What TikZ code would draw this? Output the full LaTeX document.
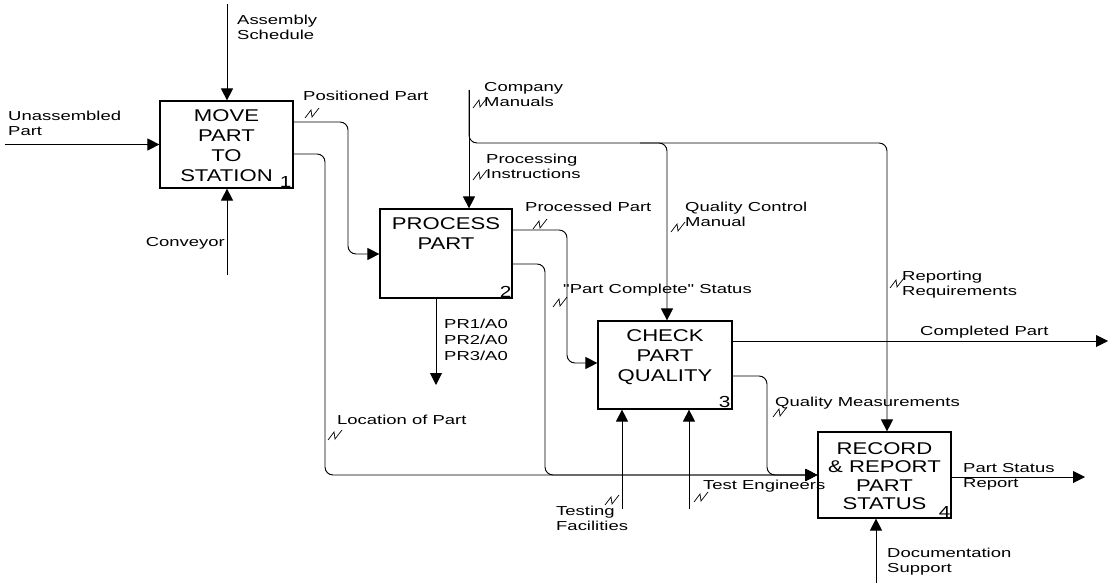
\documentclass[tikz,border=0pt]{standalone}
\usepackage{fontspec}
\usetikzlibrary{arrows.meta}
\newfontfamily\lblfamily[FakeStretch=1.42]{Liberation Sans}
\newfontfamily\boxfamily[FakeStretch=1.3]{Liberation Sans}
\newcommand\lblfont{\lblfamily\fontsize{13}{15}\selectfont}
\newcommand\boxfont{\boxfamily\fontsize{17}{20}\selectfont}
\tikzset{
  box/.style={draw, line width=1.2pt, inner sep=0pt},
  btxt/.style={font=\boxfont, align=center, inner sep=0pt, anchor=north},
  num/.style={font=\boxfamily\fontsize{16}{18}\selectfont, inner sep=0pt, anchor=south east},
  lbl/.style={font=\lblfont, align=left, inner sep=0pt, anchor=north west},
  conn/.style={line width=0.95pt, rounded corners=8pt},
  arr/.style={conn, -{Triangle[length=12pt,width=12pt]}},
  sq/.pic={\draw[line width=0.7pt] (-7,5) -- (-1,-3) -- (0,4) -- (7,-5);}
}
\begin{document}
\begin{tikzpicture}[x=1pt,y=-1pt]
\useasboundingbox (0,0) rectangle (1116,583);

% boxes
\node[box, minimum width=133pt, minimum height=87pt] (b1) at (226.5,144.5) {};
\node[box, minimum width=132pt, minimum height=89pt] (b2) at (446,253.5) {};
\node[box, minimum width=134pt, minimum height=88pt] (b3) at (665,365) {};
\node[box, minimum width=133pt, minimum height=86pt] (b4) at (884.5,475) {};

\node[btxt] (t1) at ([yshift=-9pt]b1.north) {MOVE\\PART\\TO\\STATION};
\node[btxt] (t2) at ([yshift=-9pt]b2.north) {PROCESS\\PART};
\node[btxt] (t3) at ([yshift=-9pt]b3.north) {CHECK\\PART\\QUALITY};
\node[btxt, font=\boxfamily\fontsize{17}{18.5}\selectfont] (t4) at ([yshift=-11pt]b4.north) {RECORD\\\&~REPORT\\PART\\STATUS};

\node[num] (n1) at ([xshift=-2pt,yshift=1pt]b1.south east) {1};
\node[num] (n2) at ([xshift=-1pt,yshift=1pt]b2.south east) {2};
\node[num] (n3) at ([xshift=-2pt,yshift=2pt]b3.south east) {3};
\node[num] (n4) at ([xshift=-1pt,yshift=1pt]b4.south east) {4};

% connectors
\coordinate (asS) at (227,4);
\draw[arr] (asS) -- (asS |- b1.north);
\coordinate (unS) at (5,144.5);
\draw[arr] (unS) -- (b1.west);
\coordinate (cvS) at (227,275);
\draw[arr] (cvS) -- (cvS |- b1.south);
\draw[arr] (b1.east |- 0,122) -- (348,122) -- (348,254) -- (b2.west |- 0,254);
\draw[arr] (b1.east |- 0,154) -- (325,154) -- (325,475) -- (b4.west);
\draw[arr] (b2.east |- 0,264) -- (545,264) -- (545,475) -- (b4.west);
\draw[arr] (b3.east |- 0,376) -- (767,376) -- (767,475) -- (b4.west);
\draw[arr] (b2.east |- 0,230) -- (567,230) -- (567,363) -- (b3.west |- 0,363);
\coordinate (cmS) at (469,90);
\draw[arr] (cmS) -- (cmS |- b2.north);
\draw[arr] (cmS) -- (469,143) -- (887,143) -- (887,0 |- b4.north);
\draw[arr] (640,143) -- (667,143) -- (667,0 |- b3.north);
\coordinate (cpE) at (1108,341);
\draw[arr] (b3.east |- cpE) -- (cpE);
\coordinate (prE) at (436,385);
\draw[arr] (prE |- b2.south) -- (prE);
\coordinate (tfS) at (622,509);
\draw[arr] (tfS) -- (tfS |- b3.south);
\coordinate (teS) at (689,509);
\draw[arr] (teS) -- (teS |- b3.south);
\coordinate (psE) at (1085,477);
\draw[arr] (b4.east |- psE) -- (psE);
\coordinate (dsS) at (876,583);
\draw[arr] (dsS) -- (dsS |- b4.south);

% labels
\node[lbl] (l1) at (237,15) {Assembly\\Schedule};
\node[lbl] (l2) at (8,111) {Unassembled\\Part};
\node[lbl, anchor=north east] (l3) at (225,237) {Conveyor};
\node[lbl] (l4) at (303,91) {Positioned Part};
\node[lbl] (l5) at (484,82) {Company\\Manuals};
\node[lbl] (l6) at (486,154) {Processing\\Instructions};
\node[lbl] (l7) at (525,202) {Processed Part};
\node[lbl] (l8) at (685,202) {Quality Control\\Manual};
\node[lbl] (l9) at (563,284) {"Part Complete" Status};
\node[lbl, font=\lblfamily\fontsize{13}{15.7}\selectfont] (l10) at (444,319) {PR1/A0\\PR2/A0\\PR3/A0};
\node[lbl] (l11) at (337,415) {Location of Part};
\node[lbl] (l12) at (556,506) {Testing\\Facilities};
\node[lbl] (l13) at (703,480) {Test Engineers};
\node[lbl] (l14) at (902,271) {Reporting\\Requirements};
\node[lbl] (l15) at (920,326) {Completed Part};
\node[lbl] (l16) at (775,397) {Quality Measurements};
\node[lbl] (l17) at (963,463) {Part Status\\Report};
\node[lbl] (l18) at (887,548) {Documentation\\Support};

% squiggles
\pic at (312,113) {sq};
\pic at (480,103) {sq};
\pic at (480,175) {sq};
\pic at (540,224) {sq};
\pic at (678,227) {sq};
\pic at (560,302) {sq};
\pic at (335,435) {sq};
\pic at (612,500) {sq};
\pic at (701,497) {sq};
\pic at (897,283) {sq};
\pic at (780,412) {sq};
\end{tikzpicture}
\end{document}
